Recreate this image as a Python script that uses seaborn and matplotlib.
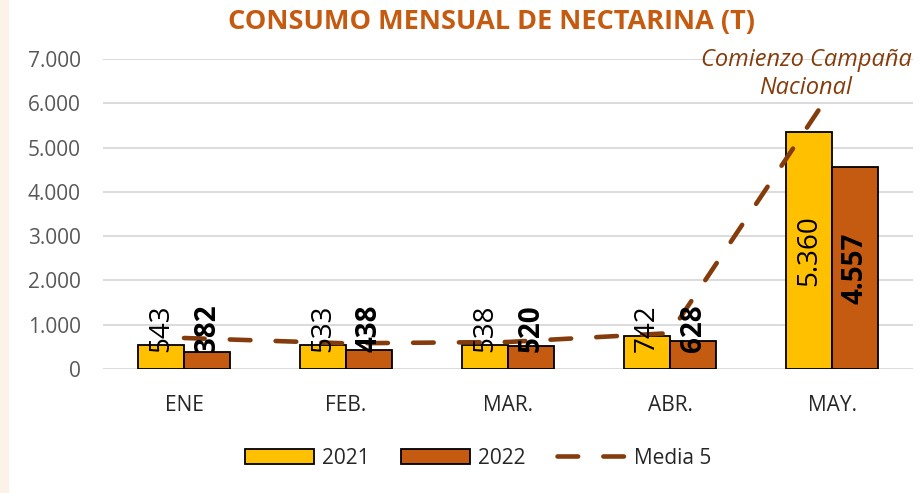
import numpy as np
import pandas as pd
import matplotlib
matplotlib.use("Agg")
import matplotlib.pyplot as plt
import matplotlib.patches as mpatches
from matplotlib.lines import Line2D
from matplotlib.ticker import FuncFormatter
import seaborn as sns

# datos (toneladas)
meses = ["ENE", "FEB.", "MAR.", "ABR.", "MAY."]
consumo_2021 = [543, 533, 538, 742, 5360]
consumo_2022 = [382, 438, 520, 628, 4557]
media_5 = [700, 580, 610, 810, 6300]
anios = ["2021", "2022"]

color_2021 = "#FFC000"
color_2022 = "#C55A11"
color_media = "#843C0C"

sns.set_theme(style="white")
plt.rcParams["font.family"] = ["Open Sans", "DejaVu Sans"]


def miles(v, pos=None):
    return f"{v:,.0f}".replace(",", ".")


df = pd.DataFrame({
    "mes": meses * 2,
    "anio": [anios[0]] * len(meses) + [anios[1]] * len(meses),
    "valor": consumo_2021 + consumo_2022,
})

fig = plt.figure(figsize=(9.24, 4.93), dpi=100)
fig.patches.append(mpatches.Rectangle((0, 0), 8 / 924, 1, transform=fig.transFigure,
                                      color="#FDF2E8", zorder=0))
ax = fig.add_axes([103 / 924, 1 - 369 / 493, 810 / 924, 310 / 493])

sns.barplot(data=df, x="mes", y="valor", hue="anio", order=meses, hue_order=anios,
            palette=[color_2021, color_2022], saturation=1, width=0.57, gap=0,
            edgecolor="black", linewidth=1.3, ax=ax, legend=False, zorder=2)

# línea de media (discontinua)
sns.lineplot(x=np.arange(len(meses)), y=media_5, ax=ax, color=color_media, lw=3.3,
             zorder=3, legend=False)
linea = ax.lines[-1]
linea.set_dashes((4.5, 5.5))
linea.set_dash_capstyle("round")

# etiquetas de datos rotadas
for cont, pesos in zip(ax.containers, ["normal", "bold"]):
    for barra in cont:
        h = barra.get_height()
        ax.text(barra.get_x() + barra.get_width() / 2, max(h / 2, 925), miles(h),
                rotation=90, ha="center", va="center", fontsize=20,
                fontweight=pesos, color="black", zorder=5)

ax.set_xlim(-0.5, len(meses) - 0.5)
ax.set_ylim(0, 7000)
ax.set_yticks(np.arange(0, 7001, 1000))
ax.yaxis.set_major_formatter(FuncFormatter(miles))
ax.grid(axis="y", color="#D9D9D9", lw=1.3, zorder=0)
ax.set_axisbelow(True)
for s in ax.spines.values():
    s.set_visible(False)
ax.tick_params(axis="y", length=0, pad=16, labelsize=15, labelcolor="#595959")
ax.tick_params(axis="x", length=0, pad=19, labelsize=15, labelcolor="#262626")
ax.set_xlabel("")
ax.set_ylabel("")

fig.text(492 / 924, 1 - 22 / 493, "CONSUMO MENSUAL DE NECTARINA (T)", ha="center",
         va="center", fontsize=19.5, fontweight="bold", color=color_2022)

ax.text(806 / 924, 1 - 74 / 493, "Comienzo Campaña\nNacional", transform=fig.transFigure,
        ha="center", va="center", fontsize=17, style="italic", color=color_media,
        linespacing=1.2, zorder=6)

handles = [
    mpatches.Patch(facecolor=color_2021, edgecolor="black", lw=1.3, label="2021"),
    mpatches.Patch(facecolor=color_2022, edgecolor="black", lw=1.3, label="2022"),
    Line2D([0], [0], color=color_media, lw=3.3, dashes=(4.5, 5.5),
           dash_capstyle="round", label="Media 5"),
]
fig.legend(handles=handles, loc="center", bbox_to_anchor=(478 / 924, 1 - 458 / 493),
           ncol=3, frameon=False, fontsize=15, handlelength=3.3, handletextpad=0.4,
           columnspacing=1.5)

fig.savefig("out.png", dpi=100)
